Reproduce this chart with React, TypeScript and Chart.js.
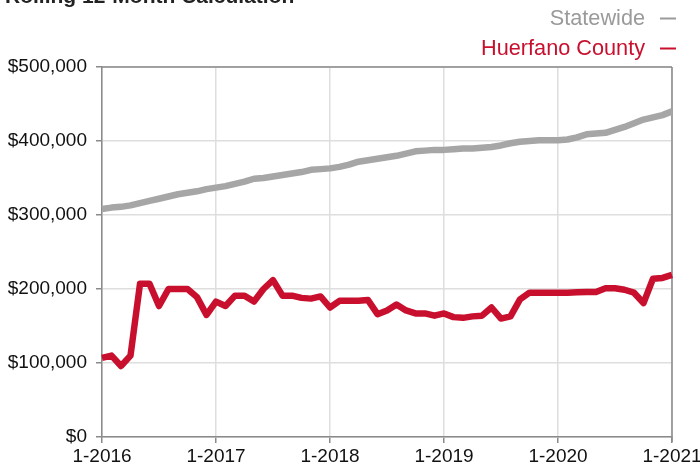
import React, { useEffect, useRef } from "react";
import { Chart, registerables } from "chart.js";

Chart.register(...registerables);

const TITLE = "Rolling 12-Month Calculation";
const SERIES_NAMES = ["Statewide", "Huerfano County"];
const YEARS = [2016, 2017, 2018, 2019, 2020];
const LAST_LABEL = "1-2021";
const Y_TICKS = [0, 100000, 200000, 300000, 400000, 500000];

const statewide = [
  308000, 310000, 311000, 313000, 316000, 319000, 322000, 325000, 328000, 330000, 332000, 335000,
  337000, 339000, 342000, 345000, 349000, 350000, 352000, 354000, 356000, 358000, 361000, 362000,
  363000, 365000, 368000, 372000, 374000, 376000, 378000, 380000, 383000, 386000, 387000, 388000,
  388000, 389000, 390000, 390000, 391000, 392000, 394000, 397000, 399000, 400000, 401000, 401000,
  401000, 402000, 405000, 409000, 410000, 411000, 415000, 419000, 424000, 429000, 432000, 435000,
  440000,
];

const huerfano = [
  107000, 110000, 96000, 110000, 207000, 207000, 177000, 200000, 200000, 200000, 189000, 165000,
  183000, 177000, 191000, 191000, 183000, 200000, 212000, 191000, 191000, 188000, 187000, 190000,
  175000, 184000, 184000, 184000, 185000, 166000, 171000, 179000, 171000, 167000, 167000, 164000,
  167000, 162000, 161000, 163000, 164000, 175000, 160000, 163000, 186000, 195000, 195000, 195000,
  195000, 195000, 195500, 196000, 196000, 201000, 201000, 199000, 195000, 181000, 214000, 215000,
  219000,
];

const COLORS = { state: "#a6a6a6", county: "#c8102e", stateText: "#9a9a9a", axis: "#8a8a8a", grid: "#dedede", text: "#111111" };
const FONT = "'Liberation Sans', Arial, Helvetica, sans-serif";

const labels: string[] = [];
YEARS.forEach((y) => {
  for (let m = 1; m <= 12; m++) labels.push(`${m}-${y}`);
});
labels.push(LAST_LABEL);

const decorPlugin = {
  id: "decor",
  beforeDatasetsDraw(chart: any) {
    const { ctx, chartArea } = chart;
    ctx.save();
    ctx.strokeStyle = COLORS.axis;
    ctx.lineWidth = 1.5;
    ctx.beginPath();
    ctx.moveTo(chartArea.left, chartArea.top);
    ctx.lineTo(chartArea.right, chartArea.top);
    ctx.moveTo(chartArea.right, chartArea.top);
    ctx.lineTo(chartArea.right, chartArea.bottom + 5);
    ctx.stroke();
    ctx.restore();
  },
  afterDraw(chart: any) {
    const { ctx } = chart;
    ctx.save();
    ctx.fillStyle = "#222";
    ctx.font = `bold 21px ${FONT}`;
    ctx.textAlign = "left";
    ctx.textBaseline = "alphabetic";
    ctx.fillText(TITLE, 5, 3);

    const rows = [
      { name: SERIES_NAMES[0], color: COLORS.stateText, y: 25 },
      { name: SERIES_NAMES[1], color: COLORS.county, y: 55 },
    ];
    ctx.font = `21.7px ${FONT}`;
    ctx.textAlign = "right";
    rows.forEach((r) => {
      ctx.fillStyle = r.color;
      ctx.fillText(r.name, 645, r.y);
      ctx.strokeStyle = r.color;
      ctx.lineWidth = 2;
      ctx.beginPath();
      ctx.moveTo(660, r.y - 6.5);
      ctx.lineTo(676, r.y - 6.5);
      ctx.stroke();
    });
    ctx.restore();
  },
};

export default function App() {
  const ref = useRef<HTMLCanvasElement | null>(null);
  useEffect(() => {
    if (!ref.current) return;
    const chart = new Chart(ref.current, {
      type: "line",
      data: {
        labels,
        datasets: [
          {
            label: SERIES_NAMES[0],
            data: statewide,
            borderColor: COLORS.state,
            borderWidth: 6.5,
            pointRadius: 0,
            tension: 0,
            borderJoinStyle: "round",
            fill: false,
          },
          {
            label: SERIES_NAMES[1],
            data: huerfano,
            borderColor: COLORS.county,
            borderWidth: 6.5,
            pointRadius: 0,
            tension: 0,
            borderJoinStyle: "round",
            fill: false,
          },
        ],
      },
      options: {
        animation: false,
        responsive: false,
        maintainAspectRatio: false,
        layout: { padding: { top: 67, right: 28, left: 0, bottom: 0 } },
        plugins: { legend: { display: false }, tooltip: { enabled: false }, title: { display: false } },
        scales: {
          x: {
            type: "category",
            offset: false,
            grid: {
              color: (c: any) => (c.index % 12 === 0 ? COLORS.grid : "transparent"),
              tickColor: (c: any) => (c.index % 12 === 0 ? COLORS.axis : "transparent"),
              tickLength: 6,
              lineWidth: 1.5,
            },
            border: { color: COLORS.axis, width: 1.5 },
            ticks: {
              autoSkip: false,
              maxRotation: 0,
              minRotation: 0,
              padding: 2,
              color: COLORS.text,
              font: { family: FONT, size: 19 },
              callback: (_v: any, i: number) => (i % 12 === 0 ? labels[i] : ""),
            },
            afterFit: (s: any) => {
              s.height = 31;
              s.paddingLeft = 0;
              s.paddingRight = 0;
            },
          },
          y: {
            min: Y_TICKS[0],
            max: Y_TICKS[Y_TICKS.length - 1],
            afterBuildTicks: (s: any) => {
              s.ticks = Y_TICKS.map((v) => ({ value: v }));
            },
            grid: { color: COLORS.grid, tickColor: COLORS.axis, tickLength: 6, lineWidth: 1.5 },
            border: { color: COLORS.axis, width: 1.5 },
            ticks: {
              padding: 9,
              color: COLORS.text,
              font: { family: FONT, size: 19 },
              callback: (v: any) => "$" + Number(v).toLocaleString("en-US"),
            },
            afterFit: (s: any) => {
              s.width = 102;
              s.paddingTop = 0;
              s.paddingBottom = 0;
            },
          },
        },
      },
      plugins: [decorPlugin],
    });
    return () => chart.destroy();
  }, []);
  return (
    <div style={{ position: "fixed", left: 0, top: 0, width: 700, height: 468, background: "#fff" }}>
      <canvas ref={ref} width={700} height={468} style={{ width: 700, height: 468, display: "block" }} />
    </div>
  );
}
